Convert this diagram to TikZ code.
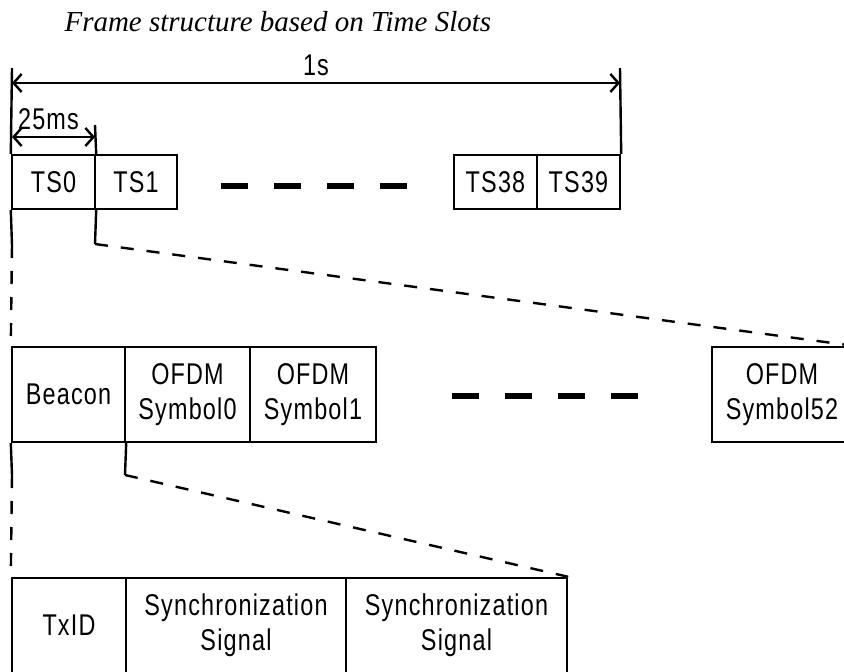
\documentclass[tikz,border=0pt]{standalone}
\usepackage{fontspec}
\setmainfont{Liberation Serif}
\newfontfamily\condfont[FakeStretch=0.78,LetterSpace=4]{Liberation Sans}
\usetikzlibrary{arrows.meta}
\begin{document}
\begin{tikzpicture}[x=1pt,y=-1pt,
    slot/.style={draw, line width=2.4pt, inner sep=0pt, align=center,
      font=\condfont\fontsize{30}{35}\selectfont},
    gapline/.style={line width=5.5pt, dash pattern=on 27pt off 26pt},
    zoomline/.style={line width=2.4pt, dash pattern=on 13pt off 13pt},
    span/.style={line width=2.4pt,
      {Straight Barb[length=8pt,width=18pt]}-{Straight Barb[length=8pt,width=18pt]}}]
  \useasboundingbox (0,0) rectangle (844,672);
  \clip (0,0) rectangle (844,672);
  \node[anchor=base west, font=\itshape\fontsize{29}{34}\selectfont] (title)
    at (61,31) {Frame structure based on Time Slots};
  % time slots
  \node[slot, minimum width=83pt, minimum height=54pt] (ts0) at (53.5,182) {TS0};
  \node[slot, minimum width=82pt, minimum height=54pt] (ts1) at (136,182) {TS1};
  \node[slot, minimum width=83pt, minimum height=54pt] (ts38) at (495.5,182) {TS38};
  \node[slot, minimum width=83pt, minimum height=54pt] (ts39) at (578.5,182) {TS39};
  \coordinate (gapa) at (221,186);
  \coordinate (gapb) at (408,186);
  \draw[gapline] (gapa) -- (gapb);
  % dimensions
  \coordinate (tick0) at (12,68);
  \coordinate (tick1) at (95,125);
  \coordinate (tick39) at (620,68);
  \coordinate (sec0) at (12,83);
  \coordinate (sec1) at (620,83);
  \coordinate (ms0) at (12,137);
  \coordinate (ms1) at (95,137);
  \draw[line width=2.4pt] (tick0) -- (ts0.north west);
  \draw[line width=2.4pt] (tick1) -- (ts0.north east);
  \draw[line width=2.4pt] (tick39) -- (ts39.north east);
  \draw[span] (sec0) -- node[slot, draw=none, above=6pt] (sec) {1s} (sec1);
  \draw[span] (ms0) -- node[slot, draw=none, above=6pt, xshift=-5pt] (ms) {25ms} (ms1);
  % OFDM symbols
  \node[slot, minimum width=113pt, minimum height=95pt] (beacon) at (68.5,394.5) {Beacon};
  \node[slot, minimum width=125pt, minimum height=95pt] (sym0) at (187.5,394.5) {OFDM\\Symbol0};
  \node[slot, minimum width=126pt, minimum height=95pt] (sym1) at (313,394.5) {OFDM\\Symbol1};
  \node[slot, minimum width=140pt, minimum height=95pt] (sym52) at (782,394.5) {OFDM\\Symbol52};
  \coordinate (gapc) at (452,396);
  \coordinate (gapd) at (639,396);
  \draw[gapline] (gapc) -- (gapd);
  % beacon parts
  \node[slot, minimum width=114pt, minimum height=95pt] (txid) at (69,625.5) {TxID};
  \node[slot, minimum width=220pt, minimum height=95pt] (sync1) at (236,625.5) {Synchronization\\Signal};
  \node[slot, minimum width=221pt, minimum height=95pt] (sync2) at (456.5,625.5) {Synchronization\\Signal};
  % zoom lines
  \coordinate (left1) at (12,245);
  \coordinate (knee1) at (95,244);
  \coordinate (left2) at (12,475);
  \coordinate (knee2) at (125,475);
  \draw[line width=2.4pt] (ts0.south west) -- (left1);
  \draw[zoomline] (left1) -- (beacon.north west);
  \draw[line width=2.4pt] (ts0.south east) -- (knee1);
  \draw[zoomline] (knee1) -- (sym52.north east);
  \draw[line width=2.4pt] (beacon.south west) -- (left2);
  \draw[zoomline] (left2) -- (txid.north west);
  \draw[line width=2.4pt] (beacon.south east) -- (knee2);
  \draw[zoomline] (knee2) -- (sync2.north east);
\end{tikzpicture}
\end{document}
